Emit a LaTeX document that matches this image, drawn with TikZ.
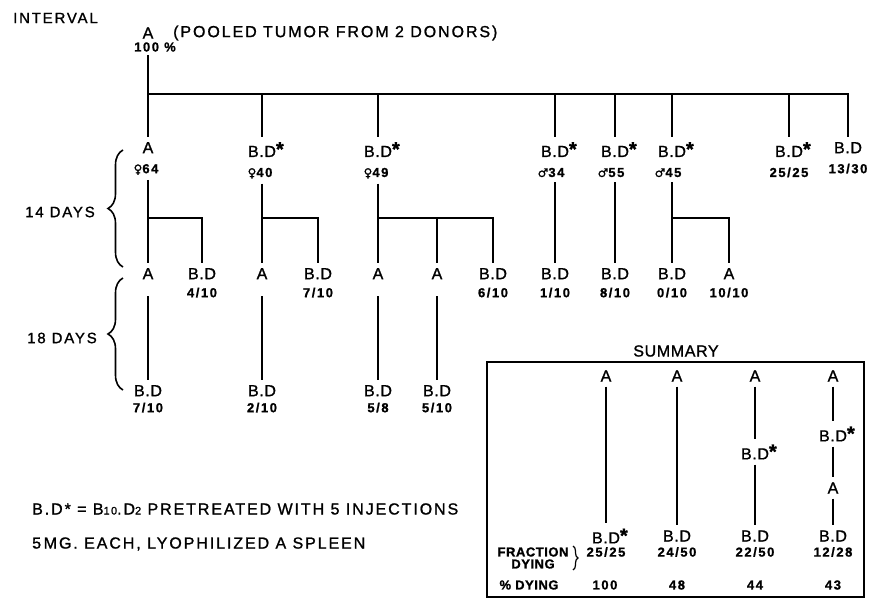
\documentclass[tikz,border=0pt]{standalone}
\usepackage{fontspec}
\setmainfont{Liberation Sans}[LetterSpace=4, FakeBold=1.2]
\newfontfamily\wide{Liberation Sans}[LetterSpace=12, FakeBold=1.2]
\newfontfamily\symfont{DejaVu Sans}[FakeBold=1]
\usetikzlibrary{positioning, decorations.pathreplacing}
\tikzstyle{every node}=[inner xsep=1pt, inner ysep=5pt]
\tikzstyle{lbl}=[align=center, font=\fontsize{16}{18}\selectfont]
\tikzstyle{txt}=[font=\wide\fontsize{15}{18}\selectfont, inner sep=0pt]
\tikzstyle{stem}=[line width=2.8pt]
\tikzstyle{brc}=[line width=1.6pt, decorate, decoration={brace, amplitude=15pt}]
\newcommand{\nm}[1]{{\wide\fontsize{13}{14}\selectfont\bfseries #1}}
\newcommand{\bdx}{B.D\rlap{\raisebox{1pt}{\bfseries\fontsize{20}{20}\selectfont *}}}
\newcommand{\fem}{{\symfont\fontsize{12}{12}\selectfont ♀}}
\newcommand{\mal}{{\symfont\fontsize{12}{12}\selectfont ♂}}
\newcommand{\sml}[1]{{\fontsize{11}{11}\selectfont #1}}

\begin{document}
\begin{tikzpicture}[x=1pt,y=-1pt]
  \useasboundingbox (0,0) rectangle (875,602);
  \node[txt, anchor=west] (intv) at (13,18) {INTERVAL};
  \node[lbl, inner ysep=1pt] (top) at (148,33) {A};
  \node[lbl, inner ysep=3pt] (topn) at (155,47) {\nm{100 \%}};
  \node[txt, anchor=west, font=\wide\fontsize{16}{18}\selectfont] (pool) at (173,33) {(POOLED TUMOR FROM 2 DONORS)};

  \node[lbl, anchor=north] (r1a) at (148,137) {A\\[2pt]\nm{\fem64}\hspace*{4pt}};
  \node[lbl, anchor=north] (r1b) at (262,137) {\bdx\\[2pt]\nm{\fem40}\hspace*{4pt}};
  \node[lbl, anchor=north] (r1c) at (378,137) {\bdx\\[2pt]\nm{\fem49}\hspace*{4pt}};
  \node[lbl, anchor=north] (r1d) at (555,137) {\bdx\\[2pt]\nm{\mal34}\hspace*{8pt}};
  \node[lbl, anchor=north] (r1e) at (615,137) {\bdx\\[2pt]\nm{\mal55}\hspace*{8pt}};
  \node[lbl, anchor=north] (r1f) at (672,137) {\bdx\\[2pt]\nm{\mal45}\hspace*{8pt}};
  \node[lbl, anchor=north] (r1g) at (789,137) {\bdx\\[2pt]\nm{25/25}};
  \node[lbl, anchor=north] (r1h) at (848,137) {B.D\\[2pt]\nm{13/30}};

  \node[lbl, anchor=north] (r2a) at (148,263) {A};
  \node[lbl, anchor=north] (r2b) at (202,263) {B.D\\\nm{4/10}};
  \node[lbl, anchor=north] (r2c) at (262,263) {A};
  \node[lbl, anchor=north] (r2d) at (318,263) {B.D\\\nm{7/10}};
  \node[lbl, anchor=north] (r2e) at (378,263) {A};
  \node[lbl, anchor=north] (r2f) at (437,263) {A};
  \node[lbl, anchor=north] (r2g) at (493,263) {B.D\\\nm{6/10}};
  \node[lbl, anchor=north] (r2h) at (555,263) {B.D\\\nm{1/10}};
  \node[lbl, anchor=north] (r2i) at (615,263) {B.D\\\nm{8/10}};
  \node[lbl, anchor=north] (r2j) at (672,263) {B.D\\\nm{0/10}};
  \node[lbl, anchor=north] (r2k) at (729,263) {A\\\nm{10/10}};

  \node[lbl, anchor=north] (r3a) at (148,380) {B.D\\[-2pt]\nm{7/10}};
  \node[lbl, anchor=north] (r3b) at (262,380) {B.D\\[-2pt]\nm{2/10}};
  \node[lbl, anchor=north] (r3c) at (378,380) {B.D\\[-2pt]\nm{5/8}};
  \node[lbl, anchor=north] (r3d) at (437,380) {B.D\\[-2pt]\nm{5/10}};

  \draw[stem] (top |- topn.south) -- (r1a.north);
  \coordinate (busL) at (148,94);
  \draw[stem] (busL) -| (r1h.north);
  \foreach \n in {r1b,r1c,r1d,r1e,r1f,r1g}
    \draw[stem] (busL -| \n.north) -- (\n.north);

  \coordinate (j1) at (148,218);
  \coordinate (j2) at (262,218);
  \coordinate (j3) at (378,218);
  \coordinate (j4) at (672,218);
  \foreach \a/\b in {r1a/r2a, r1b/r2c, r1c/r2e, r1d/r2h, r1e/r2i, r1f/r2j}
    \draw[stem] (\a.south) -- (\b.north);
  \draw[stem] (j1) -| (r2b.north);
  \draw[stem] (j2) -| (r2d.north);
  \draw[stem] (j3) -| (r2g.north);
  \draw[stem] (j3 -| r2f.north) -- (r2f.north);
  \draw[stem] (j4) -| (r2k.north);
  \foreach \a/\b in {r2a/r3a, r2c/r3b, r2e/r3c, r2f/r3d}
    \draw[stem, shorten <=12pt] (\a.south) -- (\b.north);

  \draw[brc] (123,267) -- (123,150);
  \draw[brc] (123,390) -- (123,278);
  \node[txt] (d14) at (60,212) {14 DAYS};
  \node[txt] (d18) at (62,338) {18 DAYS};

  \node[draw, line width=2pt, minimum width=377pt, minimum height=235pt, inner sep=0pt] (sumbox) at (675.5,479.5) {};
  \node[lbl] (sumt) at (676,351) {SUMMARY};
  \node[lbl] (s1a) at (606,376) {A};
  \node[lbl] (s1b) at (606,536) {\bdx};
  \node[lbl] (s2a) at (677,376) {A};
  \node[lbl] (s2b) at (677,536) {B.D};
  \node[lbl] (s3a) at (755,376) {A};
  \node[lbl] (s3m) at (755,452) {\bdx};
  \node[lbl] (s3b) at (755,536) {B.D};
  \node[lbl] (s4a) at (833,376) {A};
  \node[lbl] (s4m) at (833,434) {\bdx};
  \node[lbl] (s4n) at (833,488) {A};
  \node[lbl] (s4b) at (833,536) {B.D};
  \foreach \a/\b in {s1a/s1b, s2a/s2b, s3a/s3m, s3m/s3b, s4a/s4m, s4m/s4n, s4n/s4b}
    \draw[stem] (\a.south) -- (\b.north);

  \node[lbl, font=\fontsize{13}{14}\selectfont\bfseries] (frac) at (533,558) {FRACTION\\[-2pt]DYING};
  \draw[line width=1.2pt, decorate, decoration={brace, amplitude=5pt}] (573,546) -- (573,570);
  \node[lbl] (f1) at (606,552) {\nm{25/25}};
  \node[lbl] (f2) at (677,552) {\nm{24/50}};
  \node[lbl] (f3) at (755,552) {\nm{22/50}};
  \node[lbl] (f4) at (833,552) {\nm{12/28}};
  \node[lbl, font=\fontsize{13}{14}\selectfont\bfseries] (pct) at (529,585) {\% DYING};
  \node[lbl] (p1) at (605,585) {\nm{100}};
  \node[lbl] (p2) at (677,585) {\nm{48}};
  \node[lbl] (p3) at (755,585) {\nm{44}};
  \node[lbl] (p4) at (833,585) {\nm{43}};

  \node[txt, anchor=west, font=\wide\fontsize{16}{18}\selectfont] (note1) at (32,509) {B.D* = B\sml{10}.D\sml{2} PRETREATED WITH 5 INJECTIONS};
  \node[txt, anchor=west, font=\wide\fontsize{16}{18}\selectfont] (note2) at (32,544) {5\,MG. EACH, LYOPHILIZED A SPLEEN};
\end{tikzpicture}
\end{document}
